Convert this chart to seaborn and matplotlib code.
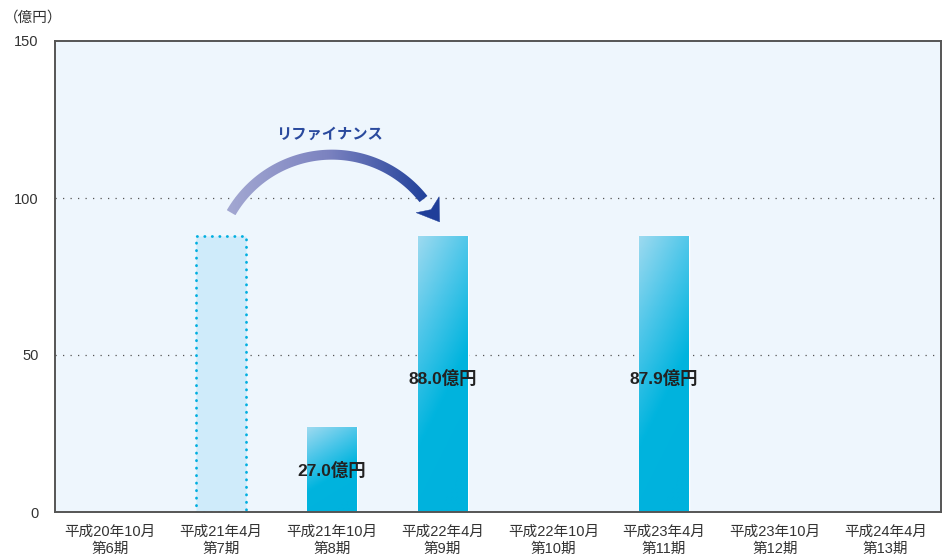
import numpy as np
import pandas as pd
import matplotlib
matplotlib.use('Agg')
import matplotlib.pyplot as plt
import seaborn as sns
from matplotlib.patches import Polygon
from matplotlib.colors import LinearSegmentedColormap

# data
periods = ['平成20年10月\n第6期', '平成21年4月\n第7期', '平成21年10月\n第8期',
           '平成22年4月\n第9期', '平成22年10月\n第10期', '平成23年4月\n第11期',
           '平成23年10月\n第12期', '平成24年4月\n第13期']
bar_periods = [periods[1], periods[2], periods[3], periods[5]]
bar_values = [88.0, 27.0, 88.0, 87.9]
bar_kinds = ['refinanced', 'borrowed', 'borrowed', 'borrowed']
bar_labels = ['', '27.0億円', '88.0億円', '87.9億円']
y_ticks = [0, 50, 100, 150]
unit_text = '（億円）'
arrow_text = 'リファイナンス'
arrow_from, arrow_to = periods[1], periods[3]

sns.set_style('white')
plt.rcParams['font.family'] = ['Liberation Sans', 'Noto Sans CJK JP']

W, H = 953, 557
fig = plt.figure(figsize=(W / 100, H / 100), dpi=100)
ax = fig.add_axes([55 / W, 1 - 512 / H, (941 - 55) / W, (512 - 41) / H])
ax.set_facecolor('#EEF6FD')

df = pd.DataFrame({'period': bar_periods, 'value': bar_values, 'kind': bar_kinds})
sns.barplot(data=df, x='period', y='value', order=periods, width=0.45,
            color='#00B4DE', saturation=1, ax=ax, zorder=2)

ax.set_xlim(-0.5, len(periods) - 0.5)
ax.set_ylim(0, 150)

# gradient fill for the bars
grad = LinearSegmentedColormap.from_list('bar', ['#9DDAF0', '#4CC6E9', '#00B4DE', '#00B2DD'])
kind_of = dict(zip(bar_periods, bar_kinds))
for p in ax.patches:
    xc = p.get_x() + p.get_width() / 2
    per = periods[int(round(xc))]
    if kind_of.get(per) == 'refinanced':
        p.set_facecolor('#CFEBFA')
        p.set_edgecolor('#00AEE0')
        p.set_linewidth(2)
        p.set_linestyle((0, (0.1, 2.6)))
        p.set_capstyle('round')
        continue
    xx, yy = np.meshgrid(np.linspace(0, 1, 40), np.linspace(0, 1, 200))
    t = np.clip((0.35 * xx + yy) / 1.15, 0, 1)
    im = ax.imshow(t, cmap=grad, vmin=0, vmax=1, origin='upper', aspect='auto',
                   extent=(p.get_x(), p.get_x() + p.get_width(), 0, p.get_height()),
                   zorder=2.1, interpolation='bilinear')
    im.set_clip_path(p)

ax.set_xlim(-0.5, len(periods) - 0.5)
ax.set_ylim(0, 150)

# value labels
for per, val, lab in zip(bar_periods, bar_values, bar_labels):
    if lab:
        ax.text(periods.index(per), val * 0.485, lab, ha='center', va='center',
                fontsize=12.5, fontweight='bold', color='#222222', zorder=4)

# dotted grid
for v in y_ticks[1:-1]:
    ax.axhline(v, color='#555555', lw=0.9, ls=(0, (1, 5)), zorder=0.5)

ax.set_xticks(range(len(periods)))
ax.set_xticklabels(periods, fontsize=10.5, color='#333333', linespacing=1.35)
ax.set_xticks(np.arange(0.5, len(periods) - 1, 1), minor=True)
ax.tick_params(axis='x', which='major', length=0, pad=9)
ax.tick_params(axis='x', which='minor', direction='in', length=7, width=1, color='#444444')
ax.set_yticks(y_ticks)
ax.set_yticklabels([str(v) for v in y_ticks], fontsize=10.5, color='#333333')
ax.tick_params(axis='y', length=0, pad=12)
ax.set_xlabel('')
ax.set_ylabel('')
for s in ax.spines.values():
    s.set_color('#555555')
    s.set_linewidth(1.4)

fig.text(4 / W, 1 - 18 / H, unit_text, fontsize=10.5, color='#333333', va='center', ha='left')

# refinance arrow, built in pixel space and mapped back to data
src = ax.transData.transform((periods.index(arrow_from), bar_values[bar_periods.index(arrow_from)]))
dst = ax.transData.transform((periods.index(arrow_to), bar_values[bar_periods.index(arrow_to)]))
p0 = src + np.array([10, 23])
p2 = dst + np.array([-15, 31])
p1 = np.array([(p0[0] + p2[0]) / 2, max(p0[1], p2[1]) + 50])


def circle(a, b, c):
    d = 2 * (a[0] * (b[1] - c[1]) + b[0] * (c[1] - a[1]) + c[0] * (a[1] - b[1]))
    ux = ((a @ a) * (b[1] - c[1]) + (b @ b) * (c[1] - a[1]) + (c @ c) * (a[1] - b[1])) / d
    uy = ((a @ a) * (c[0] - b[0]) + (b @ b) * (a[0] - c[0]) + (c @ c) * (b[0] - a[0])) / d
    cen = np.array([ux, uy])
    return cen, np.linalg.norm(a - cen)


cen, r = circle(p0, p1, p2)
th0 = np.arctan2(p0[1] - cen[1], p0[0] - cen[0])
th1 = np.arctan2(p2[1] - cen[1], p2[0] - cen[0])
th = np.linspace(th0, th1 + 0.06, 200)
half = 5.0
outer = np.column_stack([cen[0] + (r + half) * np.cos(th), cen[1] + (r + half) * np.sin(th)])
inner = np.column_stack([cen[0] + (r - half) * np.cos(th), cen[1] + (r - half) * np.sin(th)])
inv = ax.transData.inverted()
band = Polygon(inv.transform(np.vstack([outer, inner[::-1]])), closed=True,
               facecolor='none', edgecolor='none', zorder=5)
ax.add_patch(band)

tang = np.array([np.sin(th1), -np.cos(th1)])
nrm = np.array([np.cos(th1), np.sin(th1)])
head = np.array([p2 + tang * 21, p2 + nrm * 14, p2 + tang * 6, p2 - nrm * 14])
ax.add_patch(Polygon(inv.transform(head), closed=True, facecolor='#1F3E99',
                     edgecolor='#1F3E99', lw=0.3, zorder=5))

arc_cmap = LinearSegmentedColormap.from_list('arc', ['#A3A8D2', '#7C83C0', '#20409A'])
lo = inv.transform(np.vstack([outer, inner]).min(axis=0))
hi = inv.transform(np.vstack([outer, inner]).max(axis=0))
aim = ax.imshow(np.linspace(0, 1, 256)[None, :], cmap=arc_cmap, aspect='auto',
                extent=(lo[0], hi[0], lo[1], hi[1]), zorder=5, interpolation='bilinear')
aim.set_clip_path(band)

tx = inv.transform(p1 + np.array([0, 20]))
ax.text(tx[0], tx[1], arrow_text, ha='center', va='center', fontsize=11,
        fontweight='bold', color='#2A4A9E', zorder=5)

ax.set_xlim(-0.5, len(periods) - 0.5)
ax.set_ylim(0, 150)

fig.savefig('out.png', dpi=100)
